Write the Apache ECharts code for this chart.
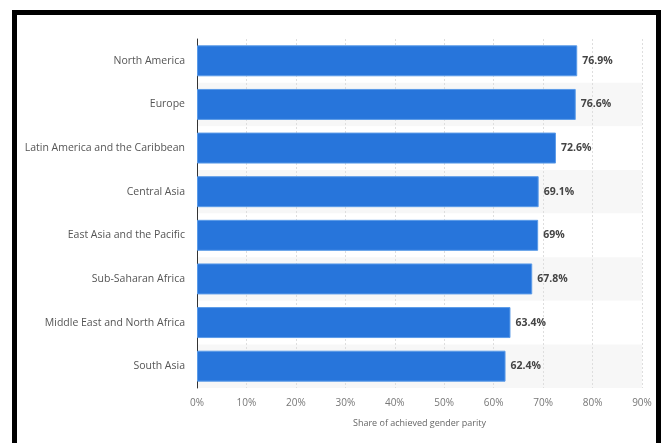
<!DOCTYPE html>
<html>
<head>
<meta charset="utf-8">
<script src="https://cdn.jsdelivr.net/npm/echarts@6/dist/echarts.min.js"></script>
<style>
    html, body { margin: 0; padding: 0; background: #fff; }
    #chart { width: 661px; height: 443px; }
    #frame {
        position: absolute; left: 12px; top: 10px; right: 0; bottom: -10px;
        border: 5px solid #000; border-bottom: none; pointer-events: none;
    }
</style>
</head>
<body>
<div id="chart"></div>
<div id="frame"></div>
<script>
const regions = [
    'North America',
    'Europe',
    'Latin America and the Caribbean',
    'Central Asia',
    'East Asia and the Pacific',
    'Sub-Saharan Africa',
    'Middle East and North Africa',
    'South Asia'
];
const parity = [76.9, 76.6, 72.6, 69.1, 69, 67.8, 63.4, 62.4];
const axisTitle = 'Share of achieved gender parity';

let chart = echarts.init(document.getElementById('chart'));

const option = {
    animation: false,
    textStyle: { fontFamily: 'Open Sans' },
    grid: { left: 197, right: 19, top: 39, bottom: 55 },
    xAxis: {
        type: 'value',
        min: 0,
        max: 90,
        interval: 10,
        name: axisTitle,
        nameLocation: 'middle',
        nameGap: 31,
        nameTextStyle: { color: '#666', fontSize: 9 },
        axisLine: { show: false },
        axisTick: { show: false },
        axisLabel: { color: '#777', fontSize: 10, margin: 10, formatter: '{value}%' },
        splitLine: { lineStyle: { color: '#dedede', type: [2, 2] } }
    },
    yAxis: {
        type: 'category',
        inverse: true,
        data: regions,
        axisLine: { lineStyle: { color: '#333', width: 1 } },
        axisTick: { show: false },
        axisLabel: { color: '#555', fontSize: 10.5, margin: 12 },
        splitArea: { show: true, areaStyle: { color: ['#ffffff', '#f7f7f7'] } }
    },
    series: [
        {
            type: 'bar',
            data: parity,
            barCategoryGap: '29%',
            itemStyle: { color: '#2775db', borderColor: '#5b9be8', borderWidth: 1 },
            label: {
                show: true,
                position: 'right',
                distance: 5,
                color: '#444',
                fontSize: 10.5,
                fontWeight: 'bold',
                formatter: p => p.value + '%'
            }
        }
    ]
};

chart.setOption(option);

window.addEventListener('resize', function () {
    chart.resize();
});
</script>
</body>
</html>
